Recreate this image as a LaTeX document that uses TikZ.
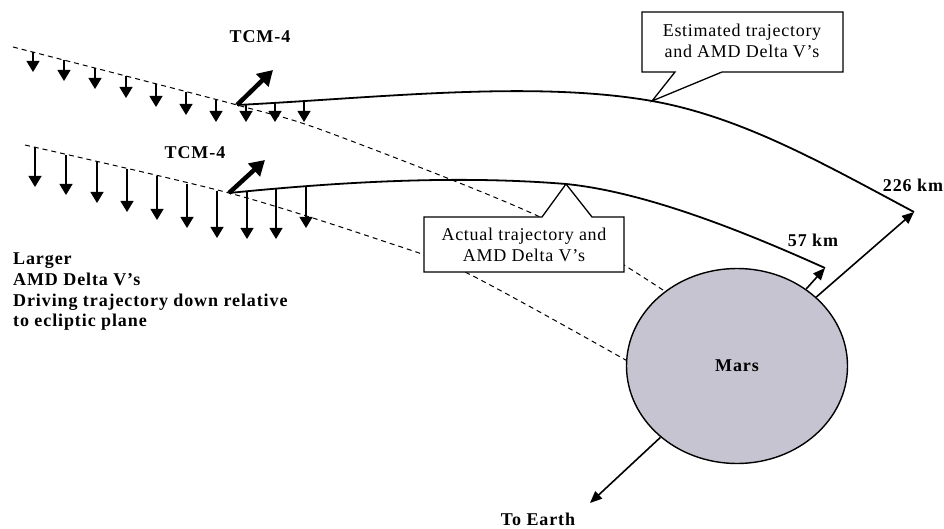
\documentclass[tikz,border=0pt]{standalone}
\usepackage{fontspec}
\setmainfont{Liberation Serif}
\newfontfamily\boldlabel[LetterSpace=5]{Liberation Serif}
\newfontfamily\calloutfont[LetterSpace=4]{Liberation Serif}
\usetikzlibrary{arrows.meta,shapes.geometric}
\definecolor{marsgray}{RGB}{198,196,208}

\begin{document}
\begin{tikzpicture}[x=1pt,y=-1pt,
  lbl/.style={font=\boldlabel\bfseries\fontsize{18}{20.6}\selectfont, inner sep=0pt},
  callouttext/.style={font=\calloutfont\fontsize{18}{21}\selectfont, align=center, inner sep=0pt},
  calloutbox/.style={draw, line width=1.3pt, fill=white, line join=miter},
  ecliptic/.style={dash pattern=on 5pt off 4pt, line width=1pt},
  trajectory/.style={line width=1.8pt},
  dvarrow/.style={line width=1.2pt, -{Triangle[width=13pt,length=11pt]}},
  tcmarrow/.style={line width=4.5pt, -{Triangle[width=17pt,length=15pt]}},
  marsarrow/.style={line width=1.6pt, -{Triangle[width=10pt,length=12pt]}},
  planet/.style={ellipse, draw, line width=1.4pt, fill=marsgray,
    minimum width=221pt, minimum height=195pt, inner sep=0pt}]
\useasboundingbox (0,0) rectangle (944,529);

% Mars
\node[planet] (mars) at (737,366) {};

% key points
\coordinate (ua) at (13,47);
\coordinate (la) at (25,145);
\coordinate (tcmU) at (237,105);
\coordinate (tcmL) at (229,193);
\coordinate (ecTip) at (652,101);
\coordinate (acTip) at (566,184);
\coordinate (t226) at (914,212);
\coordinate (t57) at (825,268);
\coordinate (earth) at (590,503);
\coordinate (tcmUhead) at (273,70);
\coordinate (tcmLhead) at (265,160);

% ecliptic reference paths (dashed)
\draw[ecliptic] plot[smooth] coordinates {(ua) (tcmU) (330,133) (540,217) (mars.134)};
\draw[ecliptic] plot[smooth] coordinates {(la) (tcmL) (380,240) (467,273) (mars.177)};

% trajectories
\draw[trajectory] (tcmU) .. controls (377,98) and (532,80) .. (ecTip)
                         .. controls (742,117) and (824,164) .. (t226);
\draw[trajectory] (tcmL) .. controls (339,182) and (456,175) .. (acTip)
                         .. controls (646,192) and (745,232) .. (t57);

% callouts
\draw[calloutbox] (642,12) -- (843,12) -- (843,72) -- (722,72) -- (ecTip) -- (675,72) -- (642,72) -- cycle;
\node[callouttext] (esttext) at (742,41) {Estimated trajectory\\and AMD Delta V’s};
\draw[calloutbox] (424,217) -- (542,217) -- (acTip) -- (592,217) -- (624,217) -- (624,272) -- (424,272) -- cycle;
\node[callouttext] (acttext) at (524,245) {Actual trajectory and\\AMD Delta V’s};

% small AMD delta-V arrows (estimated)
\foreach \x/\t/\b in {33/52/72, 64/60/81, 95/68/89, 126/76/98, 156/84/107,
                      186/92/115, 216/100/122, 246/104/122, 275/102/122, 304/100/122}
  \draw[dvarrow] (\x,\t) -- (\x,\b);

% larger AMD delta-V arrows (actual)
\foreach \x/\t/\b in {35/147/187, 66/155/195, 97/162/203, 127/169/212, 157/176/220,
                      187/184/228, 217/191/238, 247/191/239, 276/189/239, 306/187/228}
  \draw[dvarrow] (\x,\t) -- (\x,\b);

% TCM-4 burns
\draw[tcmarrow] (tcmU) -- (tcmUhead);
\draw[tcmarrow] (tcmL) -- (tcmLhead);

% arrows from Mars
\draw[marsarrow] (mars) -- (t226);
\draw[marsarrow] (mars) -- (t57);
\draw[marsarrow] (mars) -- (earth);

% labels
\node[lbl] (tcm1) at (260,37) {TCM-4};
\node[lbl] (tcm2) at (195,153) {TCM-4};
\node[lbl] (km226) at (913,185) {226 km};
\node[lbl] (km57) at (813,240) {57 km};
\node[lbl] (marslbl) at (mars.center) {Mars};
\node[lbl] (toearth) at (538,519.5) {To Earth};
\node[lbl, anchor=north west, align=left] (note) at (13,253)
  {Larger\\AMD Delta V’s\\Driving trajectory down relative\\to ecliptic plane};
\end{tikzpicture}
\end{document}
